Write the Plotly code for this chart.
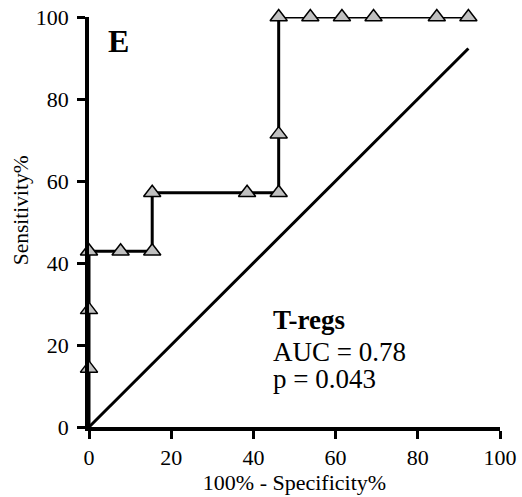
import plotly.graph_objects as go

fpr = [0, 0, 0, 0, 7.69, 15.38, 15.38, 38.46, 46.15, 46.15, 46.15, 53.85, 61.54, 69.23, 84.62, 92.31]
tpr = [0, 14.29, 28.57, 42.86, 42.86, 42.86, 57.14, 57.14, 57.14, 71.43, 100, 100, 100, 100, 100, 100]
diag_x = [0, 92.31]
diag_y = [0, 92.31]
tick_vals = [0, 20, 40, 60, 80, 100]

FONT = "Liberation Serif"

fig = go.Figure()
fig.add_trace(go.Scatter(x=diag_x, y=diag_y, mode="lines",
                         line=dict(color="black", width=3), showlegend=False, cliponaxis=False))
fig.add_trace(go.Scatter(x=fpr, y=tpr, mode="lines", line=dict(color="black", width=3),
                         showlegend=False, cliponaxis=False))
fig.add_trace(go.Scatter(x=fpr[1:], y=tpr[1:], mode="markers",
                         marker=dict(symbol="triangle-up", size=15, color="#c0c0c0",
                                     line=dict(color="black", width=1.5)),
                         showlegend=False, cliponaxis=False))

axis_common = dict(range=[0, 100], tickvals=tick_vals, showgrid=False, zeroline=False,
                   showline=True, linecolor="black", linewidth=3.5, ticks="outside",
                   ticklen=8, tickwidth=3, tickcolor="black", automargin=False,
                   ticklabeloverflow="allow",
                   tickfont=dict(family=FONT, size=22, color="black"))

fig.update_xaxes(**axis_common, title=dict(text="100% - Specificity%",
                 font=dict(family=FONT, size=22, color="black"), standoff=6))
fig.update_yaxes(**axis_common, ticklabelstandoff=4)

fig.add_annotation(x=-0.165, y=0.529, xref="paper", yref="paper", text="Sensitivity%",
                   textangle=-90, showarrow=False, xanchor="center", yanchor="middle",
                   font=dict(family=FONT, size=21.5, color="black"))

fig.add_annotation(x=4.2, y=94.2, xref="x", yref="y", text="<b>E</b>", showarrow=False,
                   xanchor="left", yanchor="middle", font=dict(family=FONT, size=32, color="black"))
fig.add_annotation(x=44.3, y=26.2, xref="x", yref="y", text="<b>T-regs</b>", showarrow=False,
                   xanchor="left", yanchor="middle", font=dict(family=FONT, size=27, color="black"))
fig.add_annotation(x=44.3, y=18.2, xref="x", yref="y", text="AUC = 0.78", showarrow=False,
                   xanchor="left", yanchor="middle", font=dict(family=FONT, size=27, color="black"))
fig.add_annotation(x=44.3, y=11.8, xref="x", yref="y", text="p = 0.043", showarrow=False,
                   xanchor="left", yanchor="middle", font=dict(family=FONT, size=27, color="black"))

fig.update_layout(width=522, height=497, margin=dict(l=89, r=22, t=17, b=70),
                  plot_bgcolor="white", paper_bgcolor="white")

# remove the default 8px page margin so the figure fills the window exactly
fig.write_html("out.html", post_script="document.body.style.margin='0';",
               config={"displayModeBar": False})
